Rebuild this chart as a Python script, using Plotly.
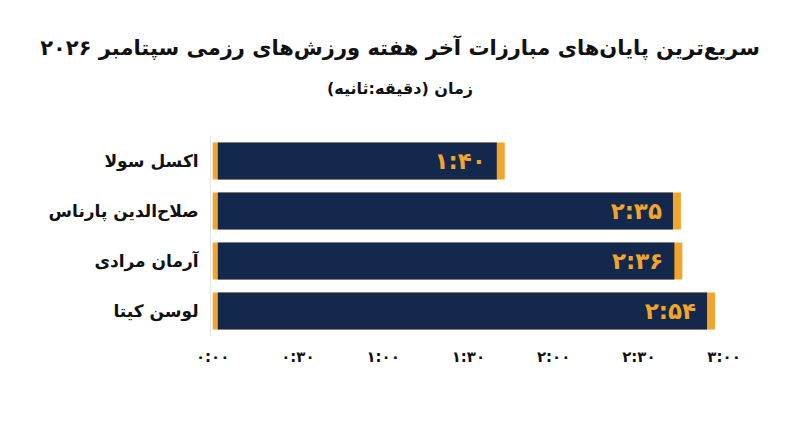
import plotly.graph_objects as go

# Data
fighters = ["اکسل سولا", "صلاح‌الدین پارناس", "آرمان مرادی", "لوسن کیتا"]
bar_seconds = [100, 162, 162.5, 174]          # bar lengths as drawn (seconds)
time_labels = ["۱:۴۰", "۲:۳۵", "۲:۳۶", "۲:۵۴"]
tick_seconds = [0, 30, 60, 90, 120, 150, 180]
tick_labels = ["۰:۰۰", "۰:۳۰", "۱:۰۰", "۱:۳۰", "۲:۰۰", "۲:۳۰", "۳:۰۰"]

title_text = "سریع‌ترین پایان‌های مبارزات آخر هفته ورزش‌های رزمی سپتامبر ۲۰۲۶"
subtitle_text = "زمان (دقیقه:ثانیه)"

NAVY = "#13284c"
ORANGE = "#f2a52b"
FONT = "DejaVu Sans"

W, H = 800, 447
ML, MR, MT, MB = 211, 60, 136, 111

left_strip = 1.8   # seconds of orange at bar start
cap = 2.8          # seconds of orange cap past the value

fig = go.Figure()
fig.add_trace(go.Bar(
    y=fighters, x=[v + cap for v in bar_seconds], base=0,
    orientation="h", marker=dict(color=ORANGE, line=dict(width=0)),
    hoverinfo="skip", showlegend=False,
))
fig.add_trace(go.Bar(
    y=fighters, x=[v - left_strip for v in bar_seconds], base=left_strip,
    orientation="h", marker=dict(color=NAVY, line=dict(width=0)),
    text=[t + "\u00a0" for t in time_labels], textposition="inside",
    insidetextanchor="end", textangle=0,
    textfont=dict(family=FONT, size=23, color=ORANGE, weight="bold"),
    hoverinfo="skip", showlegend=False,
))

plot_h = H - MT - MB
plot_w = W - ML - MR
fig.update_layout(
    width=W, height=H,
    barmode="overlay", bargap=0.26,
    paper_bgcolor="white", plot_bgcolor="white",
    margin=dict(l=ML, r=MR, t=MT, b=MB, autoexpand=False),
    font=dict(family=FONT, color="#111111"),
    title=dict(text=title_text, x=0.5, xanchor="center", y=1 - 48 / H, yanchor="middle",
               font=dict(family=FONT, size=21, color="#111111", weight="bold")),
    annotations=[dict(text=subtitle_text, xref="paper", yref="paper",
                      x=(W / 2 - ML) / plot_w, xanchor="center",
                      y=(H - MB - 89) / plot_h, yanchor="middle",
                      showarrow=False,
                      font=dict(family=FONT, size=16, color="#111111", weight="bold"))],
    xaxis=dict(range=[-0.6, 185.6], tickvals=tick_seconds, ticktext=tick_labels,
               showgrid=False, zeroline=False, showline=False, ticks="",
               ticklabelstandoff=10, automargin=False,
               tickfont=dict(family=FONT, size=15, color="#111111", weight="bold")),
    yaxis=dict(autorange="reversed", showgrid=False, zeroline=False,
               showline=True, linecolor="#e6e6e6", linewidth=1, ticks="",
               ticklabelstandoff=8, automargin=False,
               tickfont=dict(family=FONT, size=17, color="#111111", weight="bold")),
)

fig.write_html("out.html", config={"displayModeBar": False},
               post_script="document.body.style.margin='0';")
